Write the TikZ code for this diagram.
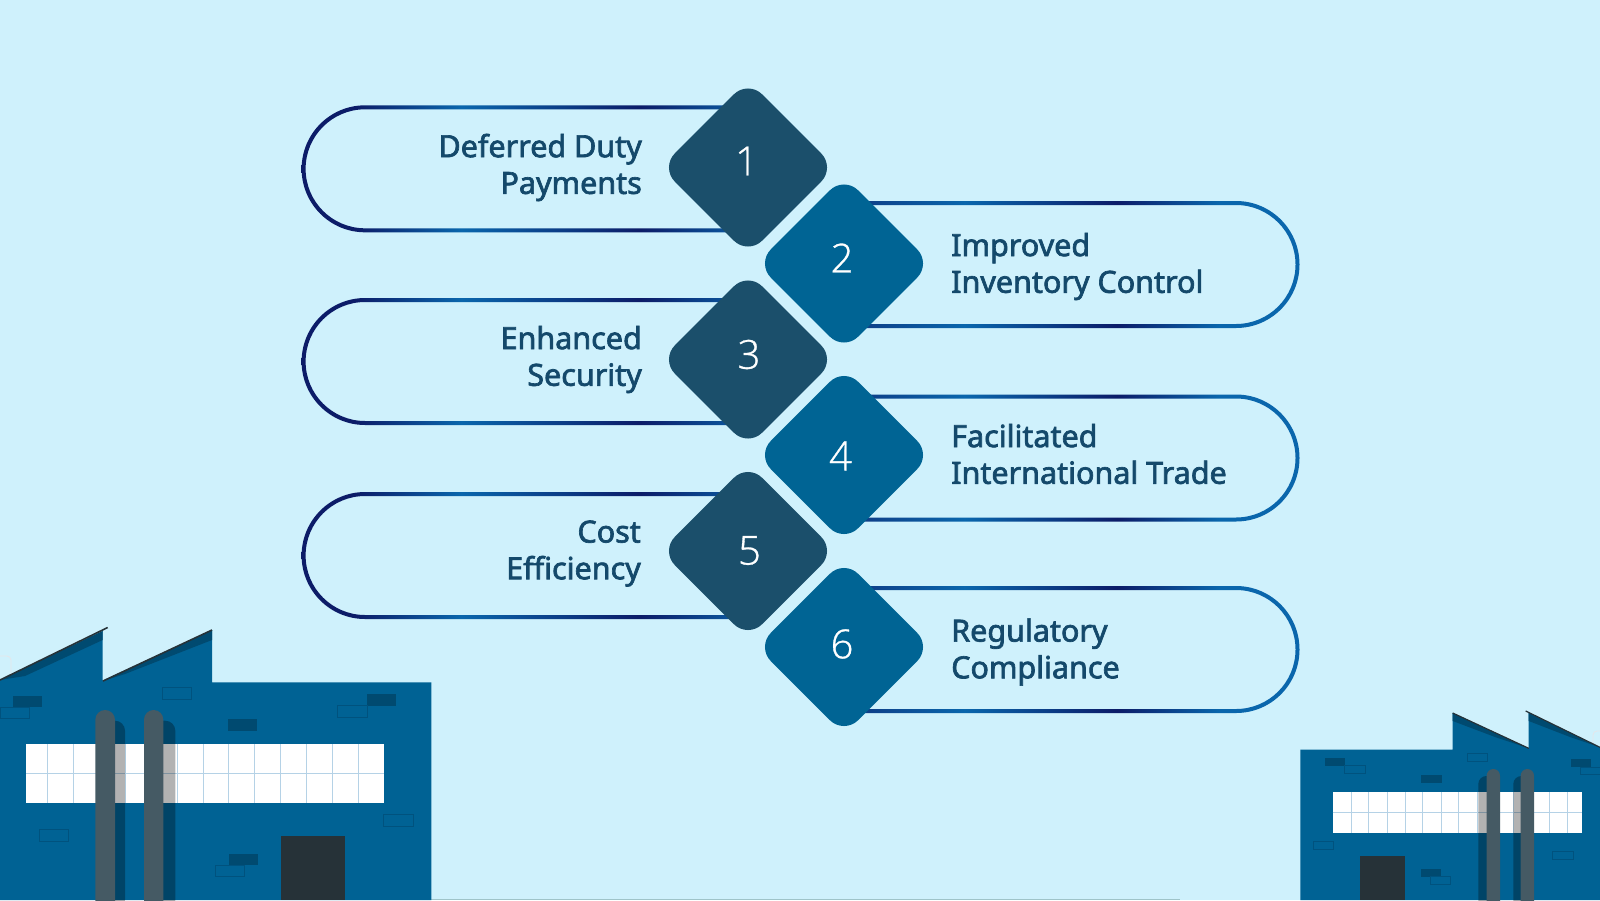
\documentclass[tikz,border=0pt]{standalone}
\usepackage{fontspec}
\usetikzlibrary{shapes.geometric}
\setmainfont{Noto Sans}[FakeBold=2.2]
\newfontfamily\digitfont{Open Sans Light}[FakeBold=0.8]
\definecolor{bgc}{HTML}{CFF1FC}
\definecolor{txtc}{HTML}{14496B}
\definecolor{darkd}{HTML}{1B4F6B}
\definecolor{lightd}{HTML}{006494}
\definecolor{bld}{HTML}{006294}
\definecolor{brick}{HTML}{004A70}
\definecolor{lbrick}{HTML}{00527E}
\definecolor{door}{HTML}{263238}
\definecolor{pipe}{HTML}{455A64}
\definecolor{gridc}{HTML}{B5D2E6}
\definecolor{navyc}{HTML}{0C1C68}
\definecolor{bluec}{HTML}{0A66AC}
\definecolor{midc}{HTML}{0E3F88}
\definecolor{edgec}{HTML}{9FC4C9}
\definecolor{palec}{HTML}{E6E6EA}
\pgfdeclarehorizontalshading{leftring}{100bp}{color(0bp)=(navyc); color(31bp)=(navyc); color(42.5bp)=(bluec); color(62bp)=(navyc); color(75bp)=(bluec); color(100bp)=(bluec)}
\pgfdeclarehorizontalshading{rightring}{100bp}{color(0bp)=(midc); color(27.5bp)=(midc); color(38.5bp)=(bluec); color(55bp)=(navyc); color(66bp)=(bluec); color(100bp)=(bluec)}
\tikzset{
  dmd/.style={diamond,aspect=1,minimum width=174.6pt,minimum height=174.6pt,inner sep=0pt,outer sep=0pt,rounded corners=20pt},
  num/.style={font=\digitfont\fontsize{40}{40}\selectfont,text=white,inner sep=0pt},
  lbl/.style={font=\fontsize{30.5}{36.7}\selectfont,text=txtc,inner sep=0pt},
  darkbrick/.style={fill=brick},
  linebrick/.style={draw=lbrick,line width=0.8pt},
  gridline/.style={draw=gridc,line width=0.8pt},
}
\newcommand\leftpill[1]{%
  \begin{scope}[even odd rule]
    \clip [rounded corners=63.5pt] (900,#1-2) -- (301.6,#1-2) -- (301.6,#1+125) -- (900,#1+125) -- cycle
      [rounded corners=59.5pt] (900,#1+2) -- (305.6,#1+2) -- (305.6,#1+121) -- (900,#1+121) -- cycle;
    \shade[shading=leftring] (300,#1-4) rectangle (760,#1+127);
  \end{scope}}
\newcommand\rightpill[1]{%
  \begin{scope}[even odd rule]
    \clip [rounded corners=63.5pt] (700,#1-2) -- (1299.5,#1-2) -- (1299.5,#1+125) -- (700,#1+125) -- cycle
      [rounded corners=59.5pt] (700,#1+2) -- (1295.5,#1+2) -- (1295.5,#1+121) -- (700,#1+121) -- cycle;
    \shade[shading=rightring] (840,#1-4) rectangle (1302,#1+127);
  \end{scope}}
\begin{document}
\begin{tikzpicture}[x=1pt,y=-1pt]
\useasboundingbox (0,0) rectangle (1600,900);
\fill[bgc] (0,0) rectangle (1600,900);
\draw[edgec,line width=1pt] (431,899.5) -- (1180,899.5);
\draw[palec,line width=.8pt,rounded corners=4pt] (0,656) -- (11,656) -- (11,676);
\draw[palec,line width=.8pt,rounded corners=4pt] (1600,731) -- (1593,731) -- (1593,746);
% pills
\leftpill{107.3}
\leftpill{300}
\leftpill{494}
\rightpill{203}
\rightpill{396.5}
\rightpill{588}
% diamonds
\node[dmd,fill=darkd] (d1) at (748,167.5) {};
\node[dmd,fill=lightd] (d2) at (844,263.5) {};
\node[dmd,fill=darkd] (d3) at (748,359.5) {};
\node[dmd,fill=lightd] (d4) at (844,455) {};
\node[dmd,fill=darkd] (d5) at (748,551) {};
\node[dmd,fill=lightd] (d6) at (844,647) {};
\node[num] (n1) at (746.5,161) {1};
\node[num] (n2) at (842,258) {2};
\node[num] (n3) at (749,354.5) {3};
\node[num] (n4) at (840.5,456) {4};
\node[num] (n5) at (749.5,550.5) {5};
\node[num] (n6) at (842,644) {6};
% labels
\node[lbl,align=right,anchor=east] (t1) at (642,167.5) {Deferred Duty\\Payments};
\node[lbl,align=left,anchor=west] (t2) at (951,266.5) {Improved\\Inventory Control};
\node[lbl,align=right,anchor=east] (t3) at (642,359.5) {Enhanced\\Security};
\node[lbl,align=left,anchor=west] (t4) at (951,454) {Facilitated\\International Trade};
\node[lbl,align=right,anchor=east] (t5) at (641,553.5) {Cost\\Efficiency};
\node[lbl,align=left,anchor=west] (t6) at (951,652) {Regulatory\\Compliance};
% left factory
\fill[bld] (0,680) -- (102.7,631) -- (102.7,680.6) -- (212,630) -- (212,682.3) -- (431.3,682.3) -- (431.3,900) -- (0,900) -- cycle;
\fill[brick] (102.7,631) -- (102.7,640) -- (25,676) -- (0,680) -- cycle;
\fill[brick] (212,630) -- (212,640) -- (125,674) -- (103,681) -- cycle;
\draw[door,line width=1.6pt] (0,680) -- (107.7,627.5);
\draw[door,line width=1.6pt] (103,681) -- (212,630);
\fill[darkbrick] (13,696) rectangle (42.3,707.3);
\fill[darkbrick] (367.3,694.3) rectangle (396.3,705.7);
\fill[darkbrick] (228.3,719.3) rectangle (257.3,730.7);
\fill[darkbrick] (229,854) rectangle (258,865);
\draw[linebrick] (0.3,707.3) rectangle (29.7,718.3);
\draw[linebrick] (162.3,687.7) rectangle (191.7,699.3);
\draw[linebrick] (337.3,705.7) rectangle (367,717.3);
\draw[linebrick] (383.3,814.7) rectangle (413,826.7);
\draw[linebrick] (39.3,829.3) rectangle (68.7,841.3);
\draw[linebrick] (215.3,865.3) rectangle (244.7,876.3);
\fill[white] (26.3,744) rectangle (384.3,802.7);
\draw[gridline] (26.3,773.3) -- (384.3,773.3);
\foreach \gx in {47.7,73.3,99.3,125.3,151.3,177,203,228.7,254.7,280.7,306.7,332.7,358.7}
  \draw[gridline] (\gx,744) -- (\gx,802.7);
\fill[black,opacity=.3,rounded corners=10pt] (105,720.7) -- (125,720.7) -- (125,910) -- (105,910) -- cycle;
\fill[black,opacity=.3,rounded corners=10pt] (153,720.7) -- (175.3,720.7) -- (175.3,910) -- (153,910) -- cycle;
\fill[pipe,rounded corners=9.8pt] (95.3,710) -- (115,710) -- (115,915) -- (95.3,915) -- cycle;
\fill[pipe,rounded corners=9.6pt] (144,710) -- (163.3,710) -- (163.3,915) -- (144,915) -- cycle;
\fill[door] (281,836) rectangle (345,900);
% right factory
\fill[bld] (1300.3,749.7) -- (1452.7,749.7) -- (1452.7,713) -- (1528.7,748.3) -- (1528.7,712.5) -- (1600,747.3) -- (1600,900) -- (1300.3,900) -- cycle;
\fill[brick] (1452.7,713) -- (1452.7,721) -- (1495,737) -- (1528.7,748.3) -- cycle;
\fill[brick] (1528.7,712.5) -- (1528.7,721) -- (1570,737) -- (1600,747.3) -- cycle;
\draw[door,line width=1.2pt] (1452.7,713) -- (1528.7,748.3);
\draw[door,line width=1.2pt] (1525.7,711) -- (1600,747.3);
\fill[darkbrick] (1325,758) rectangle (1345,766);
\fill[darkbrick] (1421.3,775) rectangle (1441.7,783);
\fill[darkbrick] (1571,759) rectangle (1591,767);
\fill[darkbrick] (1421,869) rectangle (1441,876.7);
\draw[linebrick] (1344.3,765.7) rectangle (1365.7,773.7);
\draw[linebrick] (1467.3,753.3) rectangle (1487.7,761.3);
\draw[linebrick] (1580.3,767) rectangle (1602,774.7);
\draw[linebrick] (1313,841.7) rectangle (1333.3,849.3);
\draw[linebrick] (1552.3,851.3) rectangle (1573,859.3);
\draw[linebrick] (1430.3,876.7) rectangle (1450.7,884.3);
\fill[white] (1332.7,792.3) rectangle (1582,833.3);
\draw[gridline] (1332.7,812.7) -- (1582,812.7);
\foreach \gx in {1351.3,1368.7,1387.3,1405.3,1422.7,1441.7,1458.7,1477,1495,1513,1531,1549.3,1567.3}
  \draw[gridline] (\gx,792.3) -- (\gx,833.3);
\fill[black,opacity=.3,rounded corners=8pt] (1478.3,776) -- (1495,776) -- (1495,910) -- (1478.3,910) -- cycle;
\fill[black,opacity=.3,rounded corners=8pt] (1513.3,776) -- (1530,776) -- (1530,910) -- (1513.3,910) -- cycle;
\fill[pipe,rounded corners=6.6pt] (1486.7,769) -- (1500,769) -- (1500,915) -- (1486.7,915) -- cycle;
\fill[pipe,rounded corners=6.6pt] (1520.7,769) -- (1534,769) -- (1534,915) -- (1520.7,915) -- cycle;
\fill[door] (1360.3,856.3) rectangle (1405,900);
\end{tikzpicture}
\end{document}
